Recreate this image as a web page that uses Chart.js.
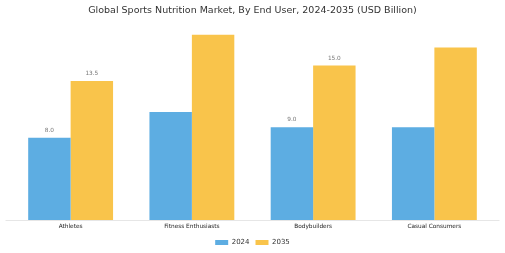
<!DOCTYPE html>
<html>
<head>
<meta charset="utf-8">
<script src="https://cdn.jsdelivr.net/npm/chart.js@4"></script>
<style>
html,body{margin:0;padding:0;background:#fff;}
#wrap{width:505px;height:253px;}
</style>
</head>
<body>
<div id="wrap"><canvas id="c" width="505" height="253"></canvas></div>
<script>
const categories = ['Athletes', 'Fitness Enthusiasts', 'Bodybuilders', 'Casual Consumers'];
const years = ['2024', '2035'];
const values2024 = [8.0, 10.5, 9.0, 9.0];
const values2035 = [13.5, 18.0, 15.0, 16.75];
const labels2024 = ['8.0', null, '9.0', null];
const labels2035 = ['13.5', null, '15.0', null];
const titleText = 'Global Sports Nutrition Market, By End User, 2024-2035 (USD Billion)';

const FONT = "'DejaVu Sans', sans-serif";

const valueLabels = {
  id: 'valueLabels',
  afterDatasetsDraw(chart) {
    const ctx = chart.ctx;
    const lbls = [labels2024, labels2035];
    ctx.save();
    ctx.font = '5.8px ' + FONT;
    ctx.fillStyle = '#777';
    ctx.textAlign = 'center';
    ctx.textBaseline = 'middle';
    chart.data.datasets.forEach((ds, i) => {
      const meta = chart.getDatasetMeta(i);
      meta.data.forEach((el, j) => {
        const t = lbls[i][j];
        if (t) ctx.fillText(t, el.x, el.y - 7.5);
      });
    });
    ctx.restore();
  },
  beforeDatasetsDraw(chart) {
    const ctx = chart.ctx;
    const a = chart.chartArea;
    ctx.save();
    ctx.strokeStyle = '#e6e6e6';
    ctx.lineWidth = 1;
    ctx.beginPath();
    ctx.moveTo(a.left - 4.5, a.bottom + 0.5);
    ctx.lineTo(a.right + 4.5, a.bottom + 0.5);
    ctx.stroke();
    ctx.restore();
  }
};

new Chart(document.getElementById('c'), {
  type: 'bar',
  data: {
    labels: categories,
    datasets: [
      { label: years[0], data: values2024, backgroundColor: '#5DADE2', borderWidth: 0,
        categoryPercentage: 0.7, barPercentage: 1.0 },
      { label: years[1], data: values2035, backgroundColor: '#F9C44B', borderWidth: 0,
        categoryPercentage: 0.7, barPercentage: 1.0 }
    ]
  },
  options: {
    responsive: false,
    animation: false,
    devicePixelRatio: 1,
    layout: { padding: { left: 10, right: 10, top: 0, bottom: -3 } },
    plugins: {
      title: {
        display: true, text: titleText, color: '#333',
        font: { family: FONT, size: 9.5, weight: 'normal' },
        padding: { top: 4.5, bottom: 8.5 }
      },
      legend: {
        position: 'bottom',
        labels: {
          boxWidth: 13, boxHeight: 5, color: '#333',
          font: { family: FONT, size: 7 }, padding: 6
        }
      },
      tooltip: { enabled: false }
    },
    scales: {
      x: {
        grid: { display: false, drawTicks: false },
        border: { display: false },
        ticks: { color: '#222', font: { family: FONT, size: 5.8 }, padding: 3 }
      },
      y: { display: false, min: 0, max: 19 }
    }
  },
  plugins: [valueLabels]
});
</script>
</body>
</html>
